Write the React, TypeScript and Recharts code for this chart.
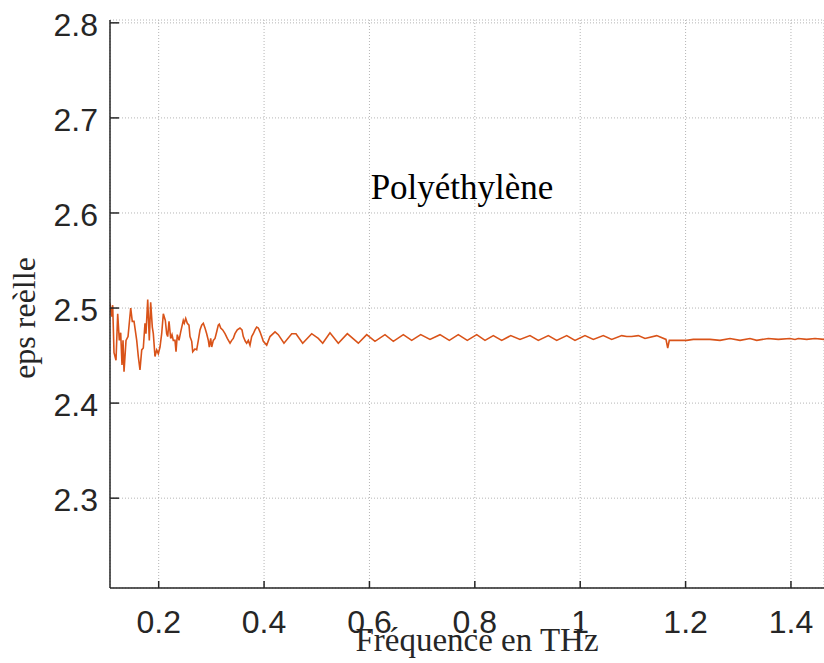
import React from 'react';
import { LineChart, Line, XAxis, YAxis, CartesianGrid } from 'recharts';

const freqTHz: number[] = [
  0.1076, 0.1108, 0.1127, 0.1152, 0.1190, 0.1222, 0.1253, 0.1279, 0.1304, 0.1323,
  0.1342, 0.1380, 0.1418, 0.1469, 0.1499, 0.1532, 0.1583, 0.1613, 0.1645, 0.1678,
  0.1708, 0.1740, 0.1759, 0.1792, 0.1822, 0.1848, 0.1879, 0.1898, 0.1930, 0.1962,
  0.1993, 0.2025, 0.2057, 0.2088, 0.2126, 0.2152, 0.2171, 0.2196, 0.2228, 0.2253,
  0.2277, 0.2310, 0.2329, 0.2353, 0.2386, 0.2418, 0.2467, 0.2486, 0.2513, 0.2543,
  0.2575, 0.2594, 0.2627, 0.2646, 0.2689, 0.2721, 0.2752, 0.2784, 0.2816, 0.2847,
  0.2879, 0.2911, 0.2942, 0.2961, 0.2987, 0.3006, 0.3037, 0.3069, 0.3101, 0.3131,
  0.3150, 0.3177, 0.3215, 0.3259, 0.3302, 0.3354, 0.3386, 0.3416, 0.3448, 0.3492,
  0.3543, 0.3581, 0.3606, 0.3644, 0.3670, 0.3701, 0.3733, 0.3765, 0.3796, 0.3828,
  0.3860, 0.3891, 0.3923, 0.3955, 0.3986, 0.4050, 0.4113, 0.4208, 0.4270, 0.4378,
  0.4525, 0.4606, 0.4733, 0.4904, 0.5029, 0.5113, 0.5251, 0.5409, 0.5580, 0.5789,
  0.5948, 0.6105, 0.6295, 0.6453, 0.6643, 0.6802, 0.6973, 0.7149, 0.7339, 0.7516,
  0.7686, 0.7857, 0.8036, 0.8193, 0.8351, 0.8510, 0.8681, 0.8857, 0.9047, 0.9205,
  0.9395, 0.9554, 0.9744, 0.9901, 1.0091, 1.0249, 1.0438, 1.0598, 1.0788, 1.0882,
  1.0977, 1.1103, 1.1230, 1.1452, 1.1628, 1.1661, 1.1691, 1.1831, 1.2021, 1.2146,
  1.2306, 1.2463, 1.2653, 1.2843, 1.3033, 1.3222, 1.3350, 1.3570, 1.3760, 1.3982,
  1.4077, 1.4139, 1.4299, 1.4456, 1.4627,
];

const epsReal: number[] = [
  2.505, 2.491, 2.503, 2.453, 2.445, 2.494, 2.466, 2.474, 2.440, 2.466,
  2.433, 2.466, 2.470, 2.500, 2.486, 2.486, 2.466, 2.449, 2.435, 2.456,
  2.458, 2.484, 2.473, 2.509, 2.466, 2.506, 2.480, 2.473, 2.449, 2.456,
  2.452, 2.459, 2.473, 2.494, 2.487, 2.473, 2.470, 2.486, 2.468, 2.472,
  2.466, 2.466, 2.454, 2.472, 2.466, 2.475, 2.487, 2.484, 2.489, 2.484,
  2.482, 2.470, 2.465, 2.454, 2.457, 2.456, 2.466, 2.477, 2.482, 2.484,
  2.479, 2.473, 2.466, 2.459, 2.468, 2.459, 2.466, 2.468, 2.475, 2.482,
  2.483, 2.479, 2.477, 2.473, 2.468, 2.463, 2.466, 2.468, 2.473, 2.477,
  2.479, 2.477, 2.470, 2.465, 2.463, 2.466, 2.461, 2.470, 2.473, 2.477,
  2.480, 2.479, 2.475, 2.470, 2.465, 2.461, 2.470, 2.475, 2.472, 2.463,
  2.473, 2.473, 2.463, 2.473, 2.468, 2.463, 2.474, 2.463, 2.473, 2.463,
  2.472, 2.465, 2.472, 2.465, 2.472, 2.466, 2.472, 2.467, 2.472, 2.466,
  2.472, 2.466, 2.472, 2.466, 2.471, 2.466, 2.471, 2.467, 2.471, 2.466,
  2.471, 2.466, 2.471, 2.466, 2.471, 2.467, 2.471, 2.467, 2.471, 2.470,
  2.470, 2.471, 2.468, 2.471, 2.467, 2.458, 2.466, 2.466, 2.466, 2.467,
  2.467, 2.467, 2.466, 2.468, 2.466, 2.468, 2.466, 2.468, 2.467, 2.468,
  2.467, 2.468, 2.467, 2.468, 2.467,
];

const xTicks: number[] = [0.2, 0.4, 0.6, 0.8, 1, 1.2, 1.4];
const yTicks: number[] = [2.3, 2.4, 2.5, 2.6, 2.7, 2.8];

const titleText = 'Polyéthylène';
const xLabelText = 'Fréquence en THz';
const yLabelText = 'eps reèlle';

const data = freqTHz.map((f, i) => ({ f, v: epsReal[i] }));

const AXIS = '#262626';
const SANS = '"Liberation Sans", Arial, sans-serif';
const SERIF = '"Liberation Serif", "Times New Roman", serif';

const XTick = (props: any) => {
  const { x, y, payload } = props;
  return (
    <g>
      <line x1={x} y1={y} x2={x} y2={y - 7} stroke={AXIS} strokeWidth={1.5} />
      <text x={x} y={y + 45} textAnchor="middle" fontFamily={SANS} fontSize={32} fill={AXIS}>
        {String(payload.value)}
      </text>
    </g>
  );
};

const YTick = (props: any) => {
  const { x, y, payload } = props;
  return (
    <g>
      <line x1={x} y1={y} x2={x + 9} y2={y} stroke={AXIS} strokeWidth={1.5} />
      <text x={x - 12} y={y + 13} textAnchor="end" fontFamily={SANS} fontSize={32} fill={AXIS}>
        {String(payload.value)}
      </text>
    </g>
  );
};

export default function App() {
  return (
    <div style={{ position: 'absolute', left: 0, top: 0, width: 824, height: 663, background: '#fff' }}>
      <LineChart
        width={824}
        height={663}
        data={data}
        margin={{ top: 20, right: 0, bottom: 0, left: 0 }}
      >
        <CartesianGrid stroke="#b5b5b5" strokeDasharray="1 2" strokeWidth={1} />
        <XAxis
          dataKey="f"
          type="number"
          domain={[0.1076, 1.4627]}
          allowDataOverflow
          ticks={xTicks}
          height={75}
          tickSize={0}
          tickMargin={0}
          tick={<XTick />}
          tickLine={false}
          axisLine={{ stroke: AXIS, strokeWidth: 1.5 }}
          interval={0}
        />
        <YAxis
          type="number"
          domain={[2.2055, 2.803]}
          allowDataOverflow
          ticks={yTicks}
          width={110}
          tickSize={0}
          tickMargin={0}
          tick={<YTick />}
          tickLine={false}
          axisLine={{ stroke: AXIS, strokeWidth: 1.5 }}
          interval={0}
        />
        <Line
          type="linear"
          dataKey="v"
          stroke="#D95319"
          strokeWidth={1.6}
          dot={false}
          isAnimationActive={false}
        />
      </LineChart>
      <svg
        width={824}
        height={663}
        style={{ position: 'absolute', left: 0, top: 0, pointerEvents: 'none' }}
      >
        <text x={462} y={199} textAnchor="middle" fontFamily={SERIF} fontSize={35} fill="#000">
          {titleText}
        </text>
        <text x={477} y={651} textAnchor="middle" fontFamily={SERIF} fontSize={33} fill={AXIS}>
          {xLabelText}
        </text>
        <text
          transform="translate(35,318) rotate(-90)"
          textAnchor="middle"
          fontFamily={SERIF}
          fontSize={32}
          fill={AXIS}
        >
          {yLabelText}
        </text>
      </svg>
    </div>
  );
}
